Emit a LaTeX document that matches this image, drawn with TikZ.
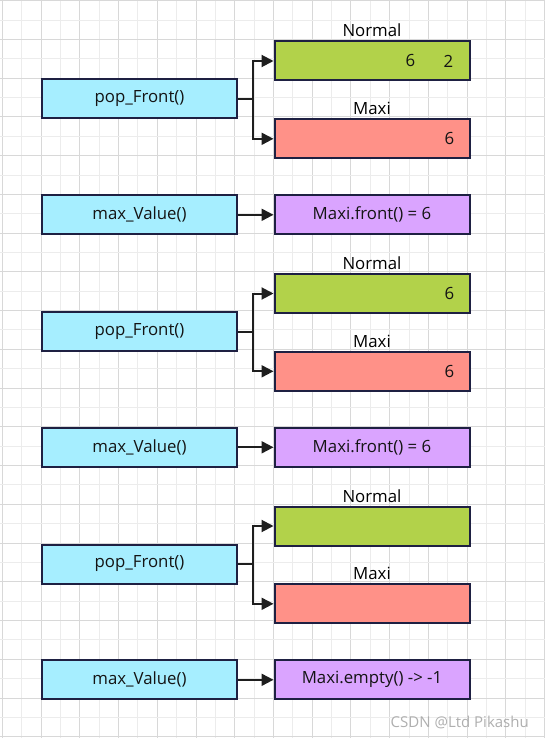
\documentclass[tikz,border=0pt]{standalone}
\usepackage{fontspec}
\setmainfont{Open Sans}
\usetikzlibrary{arrows.meta,calc}
\definecolor{gridminor}{RGB}{236,236,236}
\definecolor{gridmajor}{RGB}{216,216,216}
\definecolor{boxborder}{RGB}{30,32,66}
\definecolor{funcfill}{RGB}{166,238,255}
\definecolor{normfill}{RGB}{178,210,74}
\definecolor{maxifill}{RGB}{255,145,136}
\definecolor{resfill}{RGB}{218,164,255}
\definecolor{linecol}{RGB}{30,30,30}
\definecolor{wmark}{RGB}{175,175,175}
\tikzset{
  box/.style={draw=boxborder, line width=2pt, minimum width=195pt, minimum height=39pt, inner sep=0pt, anchor=north west, font=\fontsize{16.8}{18}\selectfont, text=black!92},
  funcbox/.style={box, fill=funcfill},
  normbox/.style={box, fill=normfill},
  maxibox/.style={box, fill=maxifill},
  resbox/.style={box, fill=resfill},
  caption/.style={inner sep=0pt, anchor=base, font=\fontsize{16.8}{18}\selectfont, text=black},
  num/.style={inner sep=0pt, font=\fontsize{16.8}{18}\selectfont, text=black!92},
  conn/.style={draw=linecol, line width=2pt, -{Triangle[length=12pt,width=12pt]}},
  plainconn/.style={draw=linecol, line width=2pt}
}
\begin{document}
\begin{tikzpicture}[x=1pt,y=-1pt]
\useasboundingbox (0,0) rectangle (545,738);
\fill[white] (0,0) rectangle (545,738);
% grid
\foreach \k in {0,...,28}{
  \pgfmathsetmacro{\xx}{2.3+19.37*\k}
  \pgfmathtruncatemacro{\ev}{mod(\k,2)}
  \ifnum\ev=0
    \draw[gridmajor, line width=1pt] (\xx,0) -- (\xx,738);
  \else
    \draw[gridminor, line width=1pt] (\xx,0) -- (\xx,738);
  \fi
}
\foreach \k in {0,...,38}{
  \pgfmathsetmacro{\yy}{0.7+19.37*\k}
  \pgfmathtruncatemacro{\ev}{mod(\k,2)}
  \ifnum\ev=0
    \draw[gridmajor, line width=1pt] (0,\yy) -- (545,\yy);
  \else
    \draw[gridminor, line width=1pt] (0,\yy) -- (545,\yy);
  \fi
}
% groups
\foreach \g/\o in {1/0, 2/232.5, 3/465}{
  \node[funcbox] (p\g) at (41,78.5+\o) {pop\_Front()};
  \node[normbox] (n\g) at (273.5,40.5+\o) {};
  \node[maxibox] (m\g) at (273.5,118.3+\o) {};
  \node[funcbox] (v\g) at (41,194.3+\o) {max\_Value()};
  \node[caption] (ln\g) at ($(n\g.north)+(0,-3.5)$) {Normal};
  \node[caption] (lm\g) at ($(m\g.north)+(0,-3.5)$) {Maxi};
  \draw[plainconn] (p\g.east) -- ++(15,0) coordinate (b\g);
  \draw[conn] (b\g) |- (n\g.west);
  \draw[conn] (b\g) |- (m\g.west);
}
\node[resbox] (r1) at (273.5,194.3) {Maxi.front() = 6};
\node[resbox] (r2) at (273.5,426.8) {Maxi.front() = 6};
\node[resbox] (r3) at (273.5,659.3) {Maxi.empty() -> -1};
\foreach \g in {1,2,3}{
  \draw[conn] (v\g.east) -- (r\g.west);
}
% numbers
\node[num] (a1) at ($(n1.east)+(-60,0)$) {6};
\node[num] (a2) at ($(n1.east)+(-22,0)$) {2};
\node[num] (a3) at ($(m1.east)+(-21,0)$) {6};
\node[num] (a4) at ($(n2.east)+(-21,0)$) {6};
\node[num] (a5) at ($(m2.east)+(-21,0)$) {6};
% watermark
\node[inner sep=0pt, text=wmark, font=\fontsize{15}{17}\selectfont, anchor=east] (wm) at (529,722) {CSDN @Ltd Pikashu};
\end{tikzpicture}
\end{document}
